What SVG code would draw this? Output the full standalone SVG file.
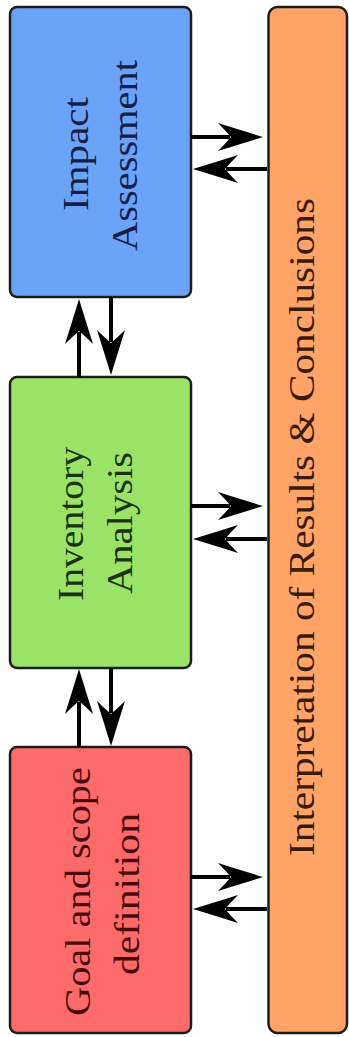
<svg xmlns="http://www.w3.org/2000/svg" width="349" height="1037" viewBox="0 0 349 1037">
  <style>
    .box { stroke: #1c1c1c; stroke-width: 2.5; }
    .lbl { font-family: "Liberation Serif", "Times New Roman", serif; font-size: 36px; text-anchor: middle; }
    .conn line { stroke: #000; stroke-width: 4; fill: none; }
  </style>
  <defs>
    <marker id="head" markerUnits="userSpaceOnUse" orient="auto" markerWidth="60" markerHeight="40" refX="0" refY="0" viewBox="-15 -20 60 40" overflow="visible">
      <path d="M33,0 Q10,-7 -12,-14 Q-5,-7 1,0 Q-5,7 -12,14 Q10,7 33,0 Z" fill="#000"/>
    </marker>
  </defs>

  <g id="impact-assessment">
    <rect class="box" x="10" y="7" width="181" height="290" rx="7" fill="#6ba3f8"/>
    <text class="lbl" fill="#14204a" transform="translate(88,154) rotate(-90)" textLength="114" lengthAdjust="spacingAndGlyphs">Impact</text>
    <text class="lbl" fill="#14204a" transform="translate(137,155.5) rotate(-90)" textLength="191" lengthAdjust="spacingAndGlyphs">Assessment</text>
  </g>

  <g id="inventory-analysis">
    <rect class="box" x="10" y="377" width="181" height="291" rx="7" fill="#9ae367"/>
    <text class="lbl" fill="#1a3310" transform="translate(83,524) rotate(-90)" textLength="154" lengthAdjust="spacingAndGlyphs">Inventory</text>
    <text class="lbl" fill="#1a3310" transform="translate(132,523) rotate(-90)" textLength="142" lengthAdjust="spacingAndGlyphs">Analysis</text>
  </g>

  <g id="goal-scope">
    <rect class="box" x="10" y="747" width="181" height="286" rx="7" fill="#fd6a6a"/>
    <text class="lbl" fill="#4a0a0a" transform="translate(90,891.5) rotate(-90)" textLength="249" lengthAdjust="spacingAndGlyphs">Goal and scope</text>
    <text class="lbl" fill="#4a0a0a" transform="translate(139,894) rotate(-90)" textLength="162" lengthAdjust="spacingAndGlyphs">definition</text>
  </g>

  <g id="interpretation">
    <rect class="box" x="268.5" y="7" width="78.5" height="1026" rx="9" fill="#ffa366"/>
    <text class="lbl" fill="#3a1a0a" transform="translate(314,527) rotate(-90)" textLength="658" lengthAdjust="spacingAndGlyphs">Interpretation of Results &amp; Conclusions</text>
  </g>

  <g id="connectors" class="conn">
    <line x1="191" y1="137" x2="230" y2="137" marker-end="url(#head)"/>
    <line x1="267" y1="169" x2="226" y2="169" marker-end="url(#head)"/>
    <line x1="191" y1="506" x2="230" y2="506" marker-end="url(#head)"/>
    <line x1="267" y1="539" x2="226" y2="539" marker-end="url(#head)"/>
    <line x1="191" y1="877" x2="230" y2="877" marker-end="url(#head)"/>
    <line x1="267" y1="909" x2="226" y2="909" marker-end="url(#head)"/>
    <line x1="79" y1="377" x2="79" y2="332" marker-end="url(#head)"/>
    <line x1="111" y1="297" x2="111" y2="342" marker-end="url(#head)"/>
    <line x1="79" y1="747" x2="79" y2="702" marker-end="url(#head)"/>
    <line x1="111" y1="668" x2="111" y2="713" marker-end="url(#head)"/>
  </g>
</svg>
